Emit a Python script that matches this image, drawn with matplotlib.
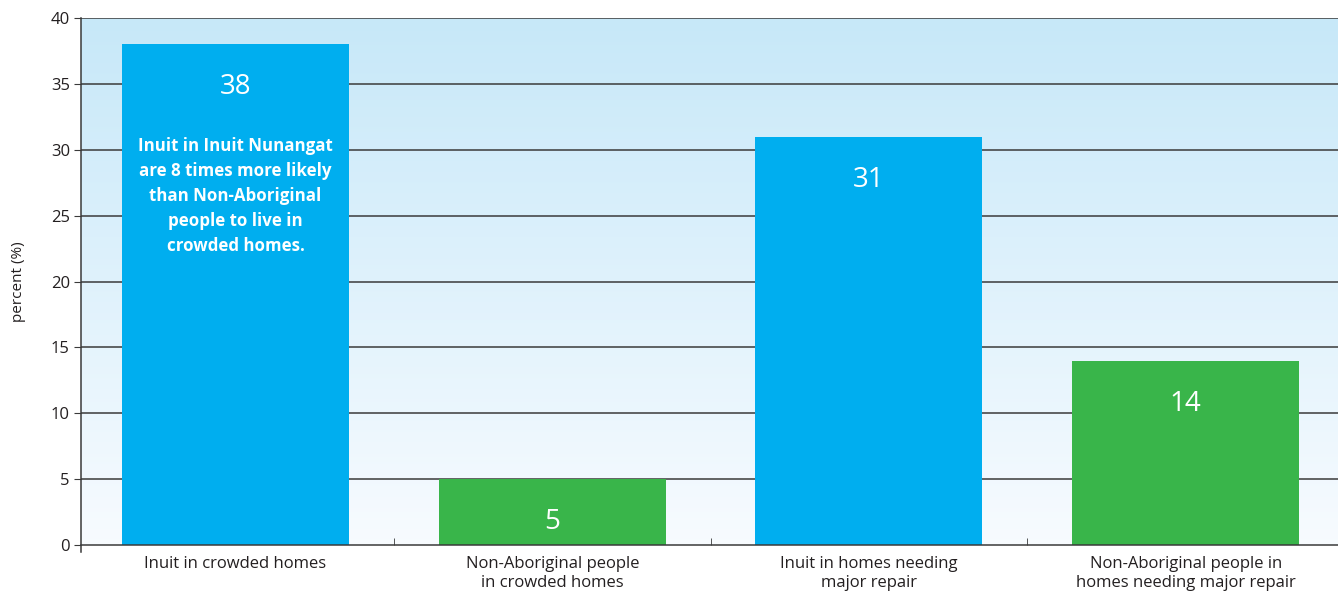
import numpy as np
from matplotlib import pyplot as plt

categories = ['Inuit in crowded homes',
              'Non-Aboriginal people\nin crowded homes',
              'Inuit in homes needing\nmajor repair',
              'Non-Aboriginal people in\nhomes needing major repair']
values = [38, 5, 31, 14]
colors = ['#00aeef', '#39b54a', '#00aeef', '#39b54a']
note = ('Inuit in Inuit Nunangat\nare 8 times more likely\nthan Non-Aboriginal\n'
        'people to live in\ncrowded homes.')

plt.rcParams['font.family'] = ['Open Sans', 'DejaVu Sans']
txt = '#231f20'

fig = plt.figure(figsize=(13.38, 5.91), dpi=100)
ax = fig.add_axes([81/1338, 46/591, 1 - 81/1338, 527/591])

x = np.arange(len(categories))
x0, x1 = -0.488, 3.481
ax.set_xlim(x0, x1)
ax.set_ylim(0, 40)

# background gradient, light blue on top fading to white
grad = np.linspace(0, 1, 256).reshape(-1, 1)
top = np.array([0.78, 0.91, 0.975])
bot = np.array([0.97, 0.985, 1.0])
img = bot + (top - bot) * grad[..., None] * np.ones((1, 1, 3))
ax.imshow(img, extent=(x0, x1, 0, 40), origin='lower', aspect='auto', zorder=0)

for y in range(5, 41, 5):
    ax.axhline(y, color='#3a3a3a', lw=1.1, zorder=1)

ax.bar(x, values, width=0.717, color=colors, zorder=2)

for xi, v in zip(x, values):
    ax.annotate(str(v), (xi, v), xytext=(0, -31), textcoords='offset points',
                ha='center', va='center', color='white', fontsize=20, zorder=3)

ax.text(0, 26.5, note, ha='center', va='center', color='white', fontsize=12.2,
        fontweight='bold', linespacing=1.5, zorder=3)

ax.set_xticks(x)
ax.set_xticklabels(categories, fontsize=12, color=txt, linespacing=1.2)
ax.tick_params(axis='x', length=0, pad=8)
ax.set_xticks([0.5, 1.5, 2.5], minor=True)
ax.tick_params(axis='x', which='minor', direction='in', length=5, color='#3a3a3a')

ax.set_yticks(range(0, 41, 5))
ax.tick_params(axis='y', labelsize=12, labelcolor=txt, length=5, color='#3a3a3a', pad=3)
ax.set_ylabel('percent (%)', fontsize=11, color=txt, labelpad=18)

for s in ['top', 'right']:
    ax.spines[s].set_visible(False)
for s in ['left', 'bottom']:
    ax.spines[s].set_color('#3a3a3a')
    ax.spines[s].set_linewidth(1.1)
ax.spines['left'].set_bounds(-0.5, 40)

plt.savefig('out.png', dpi=100)
